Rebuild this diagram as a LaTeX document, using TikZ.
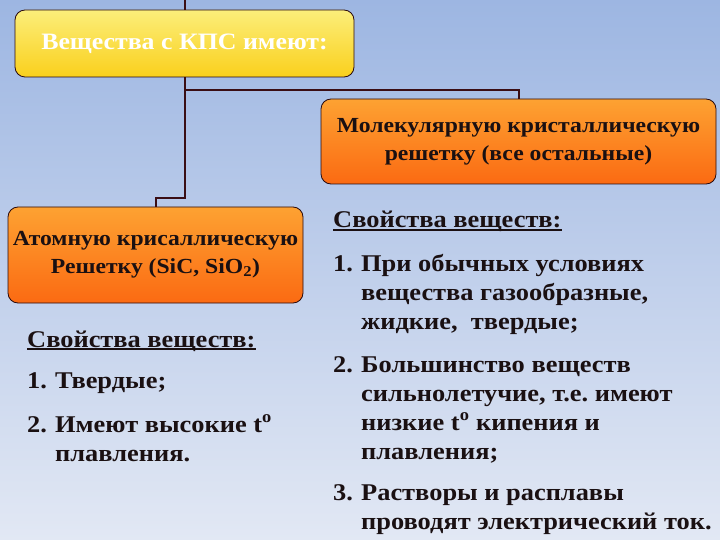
\documentclass[tikz,border=0pt]{standalone}
\usepackage{fontspec}
\setmainfont{Liberation Serif}[FakeStretch=1.1]
\frenchspacing
\definecolor{bgtop}{HTML}{9DB6E2}
\definecolor{bgbot}{HTML}{E2E8F4}
\definecolor{ytop}{HTML}{FBEE7A}
\definecolor{ybot}{HTML}{FAD01C}
\definecolor{otop}{HTML}{FDA232}
\definecolor{obot}{HTML}{FB6A12}
\definecolor{linec}{HTML}{3A0E14}
\definecolor{txt}{HTML}{1A1012}
\newcommand{\myul}[1]{\setbox0\hbox{#1}\rlap{\rule[-3pt]{\wd0}{1.8pt}}\box0}
\newcommand{\numbox}[1]{\makebox[28pt][l]{#1}}
\begin{document}
\begin{tikzpicture}[x=1pt,y=-1pt,
  boxo/.style={draw=linec!70!black, line width=0.8pt, rounded corners=10pt,
    top color=otop, bottom color=obot, align=center, inner sep=0pt,
    font=\fontsize{21.5}{28}\selectfont\bfseries, text=txt},
  boxy/.style={boxo, top color=ytop, bottom color=ybot, text=white,
    font=\fontsize{23.5}{28}\selectfont\bfseries},
  conn/.style={draw=linec, line width=2pt},
  lst/.style={anchor=base west, inner sep=0pt,
    font=\fontsize{24}{29}\selectfont\bfseries, text=txt}]
\shade[top color=bgtop, bottom color=bgbot] (0,0) rectangle (720,540);
\useasboundingbox (0,0) rectangle (720,540);

\node[boxy, minimum width=339pt, minimum height=67pt] (top) at (184.5,43.5) {Вещества с КПС имеют:};
\node[boxo, minimum width=395pt, minimum height=85pt] (mol) at (518.5,141.5)
  {Молекулярную кристаллическую\\решетку (все остальные)};
\node[boxo, minimum width=295pt, minimum height=96pt] (atom) at (155.5,255)
  {Атомную крисаллическую\\Решетку (SiC, SiO\textsubscript{2})};

\coordinate (topend) at (184.5,0);
\coordinate (j1) at (184.5,198);
\coordinate (j2) at (184.5,90);
\draw[conn] (topend) -- (top.north);
\draw[conn] (top.south) -- (j1) -| (atom.north);
\draw[conn] (j2) -| (mol.north);

\node[lst] (lh) at (27,347) {\myul{Свойства веществ:}};
\node[lst] (l1) at (27,388) {\numbox{1.}Твердые;};
\node[lst] (l2) at (27,432) {\begin{tabular}[t]{@{}l@{}}\numbox{2.}Имеют высокие t\textsuperscript{o}\\\hspace*{28pt}плавления.\end{tabular}};

\node[lst] (rh) at (333,228) {\myul{Свойства веществ:}};
\node[lst] (r1) at (333,271) {\begin{tabular}[t]{@{}l@{}}\numbox{1.}При обычных условиях\\\hspace*{28pt}вещества газообразные,\\\hspace*{28pt}жидкие,\ \ твердые;\end{tabular}};
\node[lst] (r2) at (333,372) {\begin{tabular}[t]{@{}l@{}}\numbox{2.}Большинство веществ\\\hspace*{28pt}сильнолетучие, т.е. имеют\\\hspace*{28pt}низкие t\textsuperscript{o} кипения и\\\hspace*{28pt}плавления;\end{tabular}};
\node[lst] (r3) at (333,500) {\begin{tabular}[t]{@{}l@{}}\numbox{3.}Растворы и расплавы\\\hspace*{28pt}проводят электрический ток.\end{tabular}};
\end{tikzpicture}
\end{document}
